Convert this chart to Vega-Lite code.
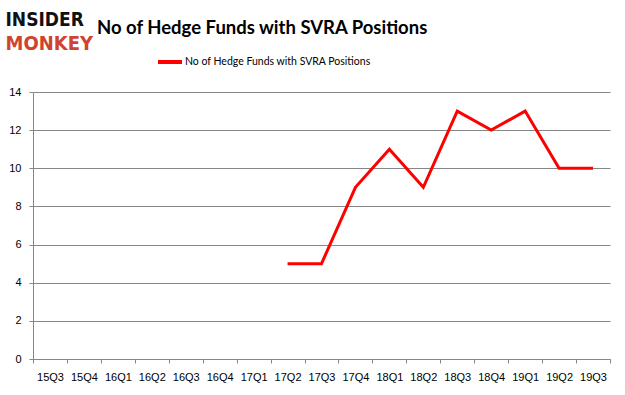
{
  "$schema": "https://vega.github.io/schema/vega-lite/v6.json",
  "width": 577,
  "height": 267,
  "autosize": {"type": "none"},
  "padding": {"left": 33, "top": 92, "right": 15, "bottom": 36},
  "background": "white",
  "title": {
    "text": "No of Hedge Funds with SVRA Positions",
    "anchor": "start",
    "frame": "group",
    "font": "Lato",
    "fontSize": 18.5,
    "fontWeight": "bold",
    "color": "#000000",
    "dx": 64,
    "dy": 27,
    "offset": 0
  },
  "config": {
    "view": {"stroke": null},
    "axis": {"labelFont": "Liberation Sans", "labelFontSize": 11, "labelColor": "#000000", "domainColor": "#868686", "tickColor": "#868686", "gridColor": "#868686"}
  },
  "data": {
    "values": [
      {"q": "15Q3", "n": null},
      {"q": "15Q4", "n": null},
      {"q": "16Q1", "n": null},
      {"q": "16Q2", "n": null},
      {"q": "16Q3", "n": null},
      {"q": "16Q4", "n": null},
      {"q": "17Q1", "n": null},
      {"q": "17Q2", "n": 5},
      {"q": "17Q3", "n": 5},
      {"q": "17Q4", "n": 9},
      {"q": "18Q1", "n": 11},
      {"q": "18Q2", "n": 9},
      {"q": "18Q3", "n": 13},
      {"q": "18Q4", "n": 12},
      {"q": "19Q1", "n": 13},
      {"q": "19Q2", "n": 10},
      {"q": "19Q3", "n": 10}
    ]
  },
  "mark": {"type": "line", "strokeWidth": 3, "color": "#ff0000"},
  "encoding": {
    "x": {
      "field": "q",
      "type": "ordinal",
      "sort": null,
      "scale": {"paddingInner": 0, "paddingOuter": 0},
      "axis": {
        "title": "MONKEY",
        "titleFont": "DejaVu Sans Condensed",
        "titleFontWeight": "bold",
        "titleFontSize": 20,
        "titleColor": "#d0432f",
        "titleAngle": 0,
        "titleAlign": "left",
        "titleBaseline": "top",
        "titleX": -28,
        "titleY": -326,
        "labelAngle": 0,
        "labelPadding": 8,
        "tickBand": "extent",
        "tickSize": 4,
        "grid": false
      }
    },
    "y": {
      "field": "n",
      "type": "quantitative",
      "scale": {"domain": [0, 14]},
      "axis": {
        "title": "INSIDER",
        "titleFont": "DejaVu Sans Condensed",
        "titleFontWeight": "bold",
        "titleFontSize": 19,
        "titleColor": "#111111",
        "titleAngle": 0,
        "titleAlign": "left",
        "titleBaseline": "top",
        "titleX": -28,
        "titleY": -82,
        "values": [0, 2, 4, 6, 8, 10, 12, 14],
        "tickSize": 4,
        "labelPadding": 8
      }
    },
    "stroke": {
      "datum": "No of Hedge Funds with SVRA Positions",
      "scale": {"range": ["#ff0000"]},
      "legend": {
        "title": null,
        "orient": "none",
        "legendX": 123,
        "legendY": -44,
        "symbolType": "stroke",
        "symbolSize": 576,
        "symbolStrokeWidth": 4,
        "labelOffset": 1,
        "labelFont": "Lato",
        "labelFontSize": 10.5,
        "labelColor": "#000000",
        "labelLimit": 400
      }
    }
  }
}
